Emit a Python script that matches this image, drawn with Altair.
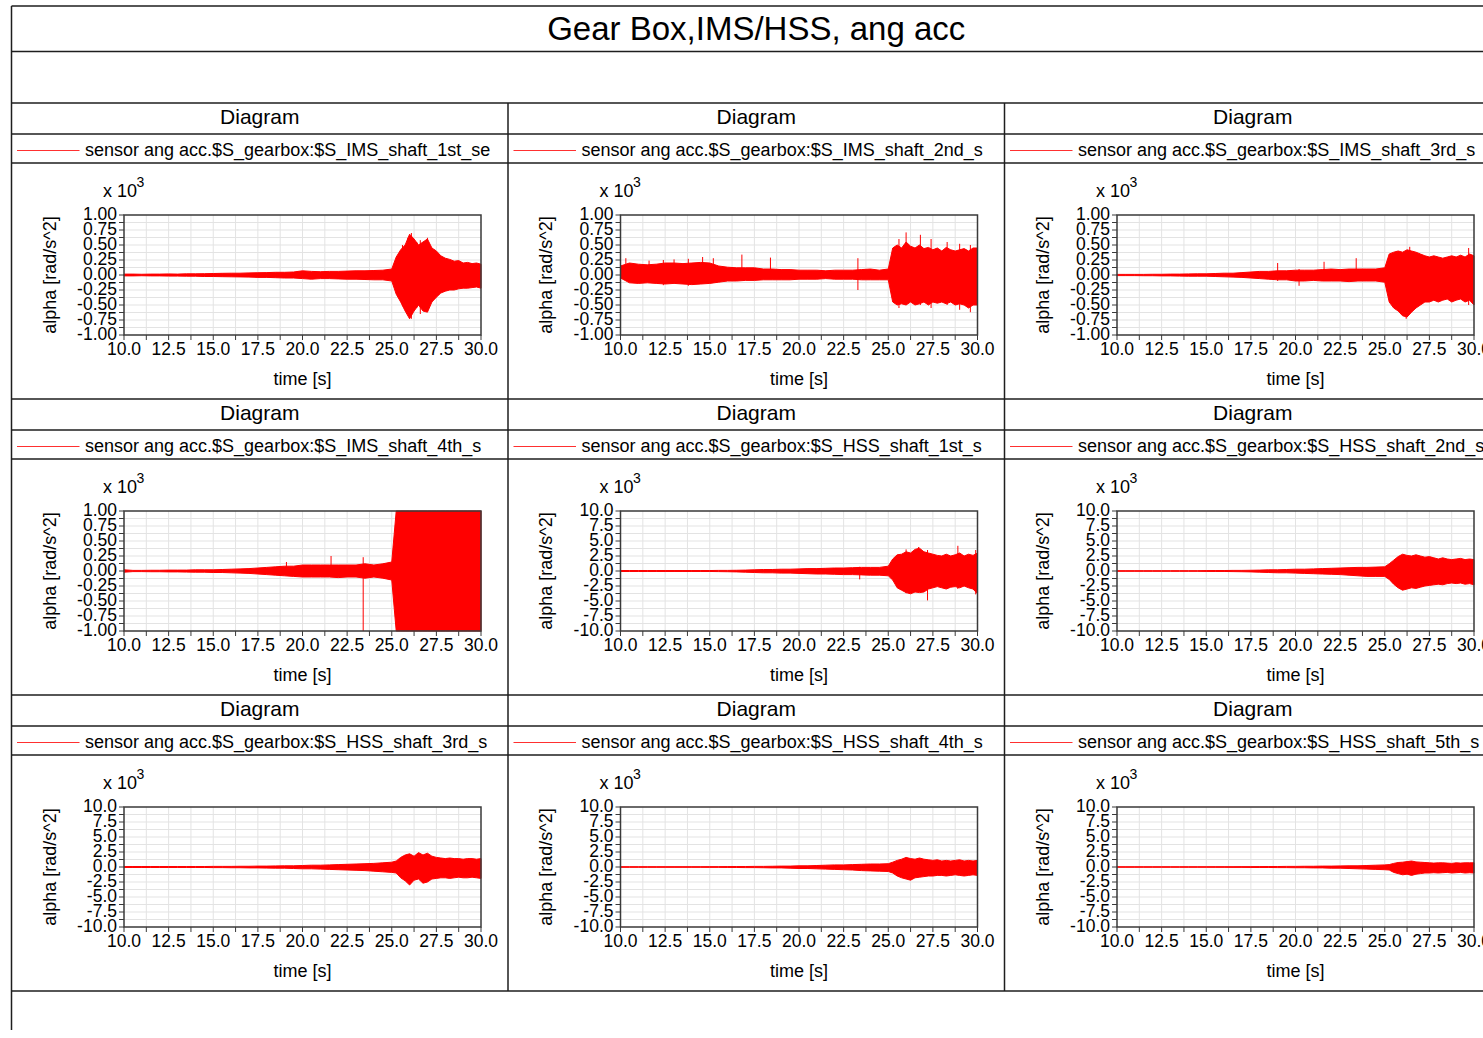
import altair as alt
import pandas as pd

# ---------------- data (values in x 10^3 rad/s^2) ----------------
TIME = [10.0, 10.5, 11.0, 11.5, 12.0, 12.5, 13.0, 13.5, 14.0, 14.5,
        15.0, 15.5, 16.0, 16.5, 17.0, 17.5, 18.0, 18.5, 19.0, 19.5,
        20.0, 20.5, 21.0, 21.5, 22.0, 22.5, 23.0, 23.5, 24.0, 24.5,
        25.0, 25.25, 25.5, 25.75, 26.0, 26.25, 26.5, 26.75, 27.0, 27.25,
        27.5, 27.75, 28.0, 28.25, 28.5, 28.75, 29.0, 29.25, 29.5, 29.75, 30.0]

IMS1_HI = [0.015, 0.015, 0.012, 0.015, 0.015, 0.018, 0.015, 0.02, 0.02, 0.022,
           0.025, 0.028, 0.03, 0.03, 0.035, 0.038, 0.04, 0.045, 0.045, 0.05,
           0.07, 0.06, 0.055, 0.06, 0.06, 0.065, 0.07, 0.07, 0.075, 0.08,
           0.1, 0.3, 0.42, 0.5, 0.68, 0.6, 0.5, 0.55, 0.6, 0.45,
           0.4, 0.32, 0.28, 0.26, 0.23, 0.24, 0.2, 0.21, 0.19, 0.2, 0.18]
IMS1_LO = [-0.015, -0.015, -0.012, -0.015, -0.015, -0.018, -0.018, -0.02, -0.02, -0.025,
           -0.025, -0.028, -0.03, -0.032, -0.035, -0.04, -0.04, -0.045, -0.05, -0.05,
           -0.06, -0.07, -0.06, -0.06, -0.065, -0.07, -0.07, -0.075, -0.08, -0.08,
           -0.1, -0.32, -0.45, -0.6, -0.73, -0.6, -0.5, -0.6, -0.62, -0.45,
           -0.37, -0.3, -0.27, -0.25, -0.25, -0.23, -0.22, -0.22, -0.21, -0.2, -0.22]
IMS1_SPIKE_T = [25.6, 25.9, 26.1, 26.4, 26.6, 27.0, 27.4]
IMS1_SPIKE_TOP = [0.5, 0.62, 0.7, 0.55, 0.58, 0.62, 0.42]
IMS1_SPIKE_BOT = [-0.52, -0.65, -0.73, -0.55, -0.65, -0.6, -0.4]

IMS2_HI = [0.15, 0.2, 0.18, 0.17, 0.18, 0.2, 0.2, 0.19, 0.2, 0.21,
           0.2, 0.15, 0.13, 0.12, 0.12, 0.12, 0.1, 0.1, 0.09, 0.09,
           0.08, 0.08, 0.08, 0.07, 0.08, 0.08, 0.08, 0.09, 0.1, 0.08,
           0.1, 0.45, 0.5, 0.45, 0.55, 0.48, 0.45, 0.5, 0.44, 0.46,
           0.42, 0.45, 0.4, 0.46, 0.42, 0.4, 0.42, 0.44, 0.4, 0.45, 0.45]
IMS2_LO = [-0.05, -0.13, -0.14, -0.13, -0.14, -0.15, -0.14, -0.15, -0.16, -0.15,
           -0.14, -0.12, -0.1, -0.1, -0.09, -0.09, -0.08, -0.08, -0.08, -0.08,
           -0.07, -0.07, -0.07, -0.06, -0.07, -0.07, -0.07, -0.08, -0.08, -0.08,
           -0.08, -0.45, -0.5, -0.48, -0.5, -0.45, -0.5, -0.48, -0.45, -0.5,
           -0.45, -0.47, -0.45, -0.48, -0.45, -0.5, -0.48, -0.5, -0.55, -0.5, -0.5]
IMS2_SPIKE_T = [10.3, 11.6, 12.4, 13.0, 13.8, 14.6, 15.2, 16.8, 18.4, 23.3,
                25.6, 26.0, 26.8, 27.4, 28.3, 29.0, 29.6]
IMS2_SPIKE_TOP = [0.28, 0.24, 0.25, 0.26, 0.27, 0.3, 0.28, 0.34, 0.29, 0.28,
                  0.6, 0.71, 0.67, 0.6, 0.55, 0.52, 0.5]
IMS2_SPIKE_BOT = [-0.05, -0.12, -0.17, -0.1, -0.18, -0.14, -0.1, -0.08, -0.06, -0.25,
                  -0.55, -0.5, -0.5, -0.55, -0.5, -0.58, -0.62]

IMS3_HI = [0.01, 0.01, 0.01, 0.01, 0.012, 0.012, 0.015, 0.015, 0.018, 0.02,
           0.02, 0.025, 0.03, 0.03, 0.04, 0.05, 0.06, 0.06, 0.07, 0.07,
           0.08, 0.08, 0.08, 0.09, 0.1, 0.09, 0.1, 0.1, 0.1, 0.1,
           0.12, 0.35, 0.38, 0.4, 0.38, 0.42, 0.4, 0.38, 0.35, 0.32,
           0.3, 0.32, 0.3, 0.28, 0.3, 0.32, 0.3, 0.33, 0.3, 0.35, 0.32]
IMS3_LO = [-0.01, -0.01, -0.01, -0.012, -0.012, -0.015, -0.015, -0.018, -0.02, -0.02,
           -0.02, -0.025, -0.03, -0.035, -0.04, -0.05, -0.06, -0.07, -0.08, -0.08,
           -0.1, -0.1, -0.09, -0.1, -0.1, -0.1, -0.11, -0.1, -0.1, -0.1,
           -0.12, -0.45, -0.55, -0.6, -0.68, -0.7, -0.62, -0.55, -0.5, -0.45,
           -0.45, -0.42, -0.45, -0.42, -0.4, -0.45, -0.42, -0.4, -0.45, -0.42, -0.5]
IMS3_SPIKE_T = [19.0, 20.2, 21.6, 23.4, 26.2, 26.4, 29.7]
IMS3_SPIKE_TOP = [0.2, 0.1, 0.22, 0.28, 0.4, 0.47, 0.45]
IMS3_SPIKE_BOT = [-0.1, -0.18, -0.1, -0.1, -0.73, -0.6, -0.5]

IMS4_HI = [0.02, 0.01, 0.01, 0.012, 0.012, 0.015, 0.015, 0.015, 0.02, 0.02,
           0.02, 0.025, 0.03, 0.035, 0.04, 0.05, 0.06, 0.07, 0.08, 0.08,
           0.1, 0.1, 0.1, 0.1, 0.1, 0.1, 0.1, 0.12, 0.1, 0.12,
           0.15, 1.0, 1.0, 1.0, 1.0, 1.0, 1.0, 1.0, 1.0, 1.0,
           1.0, 1.0, 1.0, 1.0, 1.0, 1.0, 1.0, 1.0, 1.0, 1.0, 1.0]
IMS4_LO = [-0.02, -0.01, -0.01, -0.012, -0.012, -0.015, -0.015, -0.018, -0.02, -0.02,
           -0.025, -0.025, -0.03, -0.035, -0.04, -0.05, -0.06, -0.07, -0.08, -0.09,
           -0.1, -0.1, -0.1, -0.1, -0.11, -0.1, -0.1, -0.12, -0.1, -0.12,
           -0.15, -1.0, -1.0, -1.0, -1.0, -1.0, -1.0, -1.0, -1.0, -1.0,
           -1.0, -1.0, -1.0, -1.0, -1.0, -1.0, -1.0, -1.0, -1.0, -1.0, -1.0]
IMS4_SPIKE_T = [19.1, 21.6, 23.4, 25.1]
IMS4_SPIKE_TOP = [0.15, 0.25, 0.23, 0.42]
IMS4_SPIKE_BOT = [-0.05, -0.1, -1.0, -0.15]

HSS1_HI = [0.08, 0.08, 0.08, 0.08, 0.08, 0.08, 0.08, 0.08, 0.08, 0.08,
           0.08, 0.1, 0.1, 0.12, 0.15, 0.2, 0.25, 0.25, 0.3, 0.3,
           0.35, 0.4, 0.4, 0.45, 0.5, 0.5, 0.55, 0.6, 0.6, 0.6,
           0.8, 2.0, 2.7, 2.8, 3.2, 3.0, 3.6, 3.8, 3.2, 3.0,
           2.8, 2.6, 2.5, 2.8, 2.5, 2.7, 3.0, 2.5, 2.8, 2.6, 3.0]
HSS1_LO = [-0.08, -0.08, -0.08, -0.08, -0.08, -0.08, -0.08, -0.08, -0.08, -0.08,
           -0.08, -0.1, -0.12, -0.15, -0.2, -0.25, -0.3, -0.3, -0.35, -0.35,
           -0.4, -0.45, -0.5, -0.5, -0.55, -0.6, -0.6, -0.65, -0.7, -0.7,
           -0.8, -1.5, -2.8, -3.2, -3.6, -3.8, -3.5, -3.6, -3.5, -3.0,
           -2.8, -2.6, -2.8, -3.0, -2.7, -2.6, -2.8, -2.5, -2.8, -3.0, -3.8]
HSS1_SPIKE_T = [23.4, 26.0, 26.7, 27.2, 28.9, 29.9]
HSS1_SPIKE_TOP = [0.7, 3.6, 4.0, 3.5, 4.2, 3.5]
HSS1_SPIKE_BOT = [-1.4, -3.7, -3.5, -4.9, -3.0, -3.9]

HSS2_HI = [0.05, 0.05, 0.05, 0.05, 0.05, 0.05, 0.05, 0.05, 0.05, 0.05,
           0.07, 0.08, 0.08, 0.1, 0.1, 0.12, 0.15, 0.2, 0.2, 0.25,
           0.3, 0.3, 0.35, 0.4, 0.45, 0.5, 0.55, 0.6, 0.6, 0.65,
           0.7, 1.2, 1.8, 2.4, 2.8, 2.6, 2.5, 2.7, 2.5, 2.3,
           2.4, 2.2, 2.0, 2.2, 2.0, 1.9, 2.0, 2.1, 1.9, 2.0, 1.9]
HSS2_LO = [-0.05, -0.05, -0.05, -0.05, -0.05, -0.05, -0.05, -0.05, -0.05, -0.05,
           -0.07, -0.08, -0.08, -0.1, -0.12, -0.15, -0.2, -0.25, -0.3, -0.3,
           -0.35, -0.4, -0.45, -0.5, -0.55, -0.6, -0.7, -0.8, -0.9, -0.9,
           -0.9, -1.4, -2.2, -2.8, -3.2, -3.0, -2.8, -2.9, -2.7, -2.5,
           -2.4, -2.3, -2.2, -2.3, -2.1, -2.0, -2.1, -2.0, -2.2, -2.1, -2.3]

HSS3_HI = [0.08, 0.08, 0.08, 0.08, 0.08, 0.08, 0.08, 0.08, 0.08, 0.08,
           0.1, 0.1, 0.1, 0.12, 0.12, 0.15, 0.15, 0.18, 0.2, 0.2,
           0.25, 0.3, 0.3, 0.35, 0.4, 0.45, 0.5, 0.55, 0.6, 0.7,
           0.8, 1.0, 1.6, 2.0, 2.2, 1.8, 2.4, 2.0, 2.3, 1.8,
           1.6, 1.5, 1.4, 1.5, 1.4, 1.4, 1.3, 1.4, 1.4, 1.3, 1.4]
HSS3_LO = [-0.08, -0.08, -0.08, -0.08, -0.08, -0.08, -0.08, -0.08, -0.08, -0.08,
           -0.1, -0.1, -0.12, -0.12, -0.15, -0.15, -0.18, -0.2, -0.2, -0.25,
           -0.3, -0.3, -0.35, -0.4, -0.45, -0.5, -0.55, -0.6, -0.7, -0.8,
           -0.9, -1.0, -1.8, -2.3, -3.0, -2.2, -2.0, -2.7, -2.5, -2.0,
           -1.9, -1.8, -1.8, -1.9, -1.8, -1.7, -1.8, -1.8, -1.7, -1.8, -1.9]

HSS4_HI = [0.05, 0.05, 0.05, 0.05, 0.05, 0.05, 0.05, 0.05, 0.05, 0.05,
           0.06, 0.06, 0.07, 0.08, 0.08, 0.1, 0.1, 0.12, 0.15, 0.15,
           0.2, 0.2, 0.25, 0.3, 0.35, 0.35, 0.4, 0.45, 0.5, 0.5,
           0.55, 0.8, 1.1, 1.3, 1.6, 1.4, 1.3, 1.5, 1.3, 1.2,
           1.1, 1.2, 1.0, 1.1, 1.0, 1.1, 1.2, 1.0, 1.1, 1.0, 1.1]
HSS4_LO = [-0.05, -0.05, -0.05, -0.05, -0.05, -0.05, -0.05, -0.05, -0.05, -0.05,
           -0.06, -0.06, -0.07, -0.08, -0.1, -0.1, -0.12, -0.15, -0.15, -0.2,
           -0.25, -0.25, -0.3, -0.35, -0.4, -0.45, -0.5, -0.6, -0.65, -0.7,
           -0.75, -1.0, -1.5, -1.8, -2.0, -2.2, -1.8, -1.7, -1.6, -1.5,
           -1.5, -1.4, -1.4, -1.5, -1.4, -1.3, -1.4, -1.5, -1.4, -1.3, -1.4]

HSS5_HI = [0.04, 0.04, 0.04, 0.04, 0.04, 0.04, 0.04, 0.04, 0.04, 0.04,
           0.04, 0.05, 0.05, 0.05, 0.06, 0.06, 0.07, 0.08, 0.08, 0.1,
           0.1, 0.12, 0.12, 0.15, 0.15, 0.18, 0.2, 0.2, 0.25, 0.3,
           0.35, 0.4, 0.6, 0.75, 0.8, 0.9, 1.0, 0.85, 0.8, 0.75,
           0.7, 0.65, 0.7, 0.7, 0.65, 0.6, 0.7, 0.65, 0.7, 0.7, 0.7]
HSS5_LO = [-0.04, -0.04, -0.04, -0.04, -0.04, -0.04, -0.04, -0.04, -0.04, -0.04,
           -0.04, -0.05, -0.05, -0.06, -0.06, -0.07, -0.08, -0.08, -0.1, -0.1,
           -0.12, -0.12, -0.15, -0.15, -0.2, -0.2, -0.25, -0.3, -0.35, -0.4,
           -0.45, -0.5, -0.9, -1.1, -1.3, -1.2, -1.4, -1.2, -1.1, -1.0,
           -1.0, -0.95, -1.0, -0.95, -0.9, -1.0, -0.95, -0.9, -1.0, -0.95, -1.0]

LEGENDS = [
    "sensor ang acc.$S_gearbox:$S_IMS_shaft_1st_se",
    "sensor ang acc.$S_gearbox:$S_IMS_shaft_2nd_s",
    "sensor ang acc.$S_gearbox:$S_IMS_shaft_3rd_s",
    "sensor ang acc.$S_gearbox:$S_IMS_shaft_4th_s",
    "sensor ang acc.$S_gearbox:$S_HSS_shaft_1st_s",
    "sensor ang acc.$S_gearbox:$S_HSS_shaft_2nd_s",
    "sensor ang acc.$S_gearbox:$S_HSS_shaft_3rd_s",
    "sensor ang acc.$S_gearbox:$S_HSS_shaft_4th_s",
    "sensor ang acc.$S_gearbox:$S_HSS_shaft_5th_s",
]

TITLE = "Gear Box,IMS/HSS, ang acc"
HEADER = "Diagram"
Y_TITLE = "alpha [rad/s^2]"
X_TITLE = "time [s]"

X_DOMAIN = [10.0, 30.0]
X_TICKS = [10.0, 12.5, 15.0, 17.5, 20.0, 22.5, 25.0, 27.5, 30.0]
X_TICK_LABELS = ["10.0", "12.5", "15.0", "17.5", "20.0", "22.5", "25.0", "27.5", "30.0"]
Y_TICKS_IMS = [1.0, 0.75, 0.5, 0.25, 0.0, -0.25, -0.5, -0.75, -1.0]
Y_LABELS_IMS = ["1.00", "0.75", "0.50", "0.25", "0.00", "-0.25", "-0.50", "-0.75", "-1.00"]
Y_TICKS_HSS = [10.0, 7.5, 5.0, 2.5, 0.0, -2.5, -5.0, -7.5, -10.0]
Y_LABELS_HSS = ["10.0", "7.5", "5.0", "2.5", "0.0", "-2.5", "-5.0", "-7.5", "-10.0"]

# ---------------- layout / style ----------------
FONT = "Liberation Sans"
LINE = "#1e1e1e"
FRAME = "#3a3a3a"
GRID = "#e3e3e3"
RED = "#ff0000"
PAGE_W, PAGE_H = 1483, 1030
X0, COLW, ROW0, ROWH = 11.5, 496.5, 103.0, 296.0
RIGHT = X0 + 3 * COLW


def col_left(c):
    return X0 + c * COLW


def row_top(r):
    return ROW0 + r * ROWH


def pix(ch, field):
    if ch == "x":
        return alt.X(field, type="quantitative", scale=None, axis=None)
    return alt.Y(field, type="quantitative", scale=None, axis=None)


def text_layer(rows, size, align="center", angle=0, baseline="alphabetic"):
    df = pd.DataFrame(rows, columns=["px", "py", "s"])
    return alt.Chart(df).mark_text(
        font=FONT, fontSize=size, align=align, baseline=baseline, angle=angle, color="#000000"
    ).encode(x=pix("x", "px"), y=pix("y", "py"), text="s:N")


# frame lines
hl = [(X0, RIGHT, 6.0), (X0, RIGHT, 51.5), (X0, RIGHT, ROW0)]
for r in range(3):
    t = row_top(r)
    hl += [(X0, RIGHT, t + 31), (X0, RIGHT, t + 60), (X0, RIGHT, t + ROWH)]
vl = [(X0, 6.0, float(PAGE_H))]
for c in (1, 2, 3):
    vl.append((col_left(c), ROW0, ROW0 + 3 * ROWH))

hdf = pd.DataFrame(hl, columns=["a", "b", "py"])
vdf = pd.DataFrame(vl, columns=["px", "a", "b"])
h_rules = alt.Chart(hdf).mark_rule(color=LINE, strokeWidth=1.5).encode(
    x=pix("x", "a"), x2="b:Q", y=pix("y", "py"))
v_rules = alt.Chart(vdf).mark_rule(color=LINE, strokeWidth=1.5).encode(
    x=pix("x", "px"), y=pix("y", "a"), y2="b:Q")

title_rows = [(X0 + 1.5 * COLW, 40.0, TITLE)]
header_rows, legend_rows, x10_rows, sup_rows, ytitle_rows, xtitle_rows, leg_lines = [], [], [], [], [], [], []
for i, name in enumerate(LEGENDS):
    r, c = divmod(i, 3)
    cl, rt = col_left(c), row_top(r)
    header_rows.append((cl + COLW / 2, rt + 20.5, HEADER))
    legend_rows.append((cl + 73.5, rt + 52.5, name))
    leg_lines.append((cl + 5.5, cl + 68.0, rt + 47.5))
    x10_rows.append((cl + 91.5, rt + 94, "x 10"))
    sup_rows.append((cl + 125.0, rt + 84, "3"))
    ytitle_rows.append((cl + 39.0, rt + 172, Y_TITLE))
    xtitle_rows.append((cl + 112.5 + 178.5, rt + 282, X_TITLE))

legend_line_layer = alt.Chart(pd.DataFrame(leg_lines, columns=["a", "b", "py"])).mark_rule(
    color="#ff3030", strokeWidth=1.2).encode(x=pix("x", "a"), x2="b:Q", y=pix("y", "py"))

decor = [
    h_rules, v_rules, legend_line_layer,
    text_layer(title_rows, 33),
    text_layer(header_rows, 21),
    text_layer(legend_rows, 18, align="left"),
    text_layer(x10_rows, 18, align="left"),
    text_layer(sup_rows, 14, align="left"),
    text_layer(ytitle_rows, 18, angle=270, baseline="middle"),
    text_layer(xtitle_rows, 18),
]


def panel(i, hi, lo, ymax, yticks, ylabels, spikes=None):
    r, c = divmod(i, 3)
    cl, rt = col_left(c), row_top(r)
    x0 = cl + 112.5
    x1 = x0 + 357.0
    y0 = rt + 112.0
    y1 = y0 + 120.0
    xs = alt.Scale(domain=X_DOMAIN, range=[x0, x1], nice=False, zero=False)
    ys = alt.Scale(domain=[-ymax, ymax], range=[y1, y0], nice=False, zero=False)

    def X(f):
        return alt.X(f, type="quantitative", scale=xs, axis=None)

    def Y(f):
        return alt.Y(f, type="quantitative", scale=ys, axis=None)

    xminor = [X_DOMAIN[0] + 1.25 * k for k in range(17)]
    ystep = ymax / 8.0
    yminor = [-ymax + ystep * k for k in range(17)]

    gv = alt.Chart(pd.DataFrame({"t": xminor[1:-1], "lo": -ymax, "hi": ymax})).mark_rule(
        color=GRID, strokeWidth=1).encode(x=X("t"), y=Y("lo"), y2="hi:Q")
    gh = alt.Chart(pd.DataFrame({"v": yminor[1:-1], "a": X_DOMAIN[0], "b": X_DOMAIN[1]})).mark_rule(
        color=GRID, strokeWidth=1).encode(y=Y("v"), x=X("a"), x2="b:Q")
    area = alt.Chart(pd.DataFrame({"t": TIME, "hi": hi, "lo": lo})).mark_area(
        color=RED, stroke=RED, strokeWidth=1, interpolate="linear").encode(
        x=X("t"), y=Y("hi"), y2="lo:Q")
    layers = [gv, gh, area]
    if spikes is not None:
        st, stop, sbot = spikes
        layers.append(alt.Chart(pd.DataFrame({"t": st, "top": stop, "bot": sbot})).mark_rule(
            color=RED, strokeWidth=1).encode(x=X("t"), y=Y("top"), y2="bot:Q"))
    frame = alt.Chart(pd.DataFrame({"a": [X_DOMAIN[0]], "b": [X_DOMAIN[1]],
                                    "lo": [-ymax], "hi": [ymax]})).mark_rect(
        fillOpacity=0, stroke=FRAME, strokeWidth=1.5).encode(
        x=X("a"), x2="b:Q", y=Y("lo"), y2="hi:Q")
    xt = alt.Chart(pd.DataFrame({"t": xminor})).mark_rule(color=FRAME, strokeWidth=1).encode(
        x=X("t"), y=alt.value(y1), y2=alt.value(y1 + 5))
    yt = alt.Chart(pd.DataFrame({"v": yminor})).mark_rule(color=FRAME, strokeWidth=1).encode(
        y=Y("v"), x=alt.value(x0 - 5), x2=alt.value(x0))
    xl = alt.Chart(pd.DataFrame({"t": X_TICKS, "s": X_TICK_LABELS})).mark_text(
        font=FONT, fontSize=17.5, align="center", baseline="alphabetic", color="#000000").encode(
        x=X("t"), y=alt.value(y1 + 20), text="s:N")
    yl = alt.Chart(pd.DataFrame({"v": yticks, "s": ylabels})).mark_text(
        font=FONT, fontSize=17.5, align="right", baseline="middle", color="#000000").encode(
        y=Y("v"), x=alt.value(x0 - 7), text="s:N")
    layers += [frame, xt, yt, xl, yl]
    return alt.layer(*layers)


panels = [
    panel(0, IMS1_HI, IMS1_LO, 1.0, Y_TICKS_IMS, Y_LABELS_IMS,
          (IMS1_SPIKE_T, IMS1_SPIKE_TOP, IMS1_SPIKE_BOT)),
    panel(1, IMS2_HI, IMS2_LO, 1.0, Y_TICKS_IMS, Y_LABELS_IMS,
          (IMS2_SPIKE_T, IMS2_SPIKE_TOP, IMS2_SPIKE_BOT)),
    panel(2, IMS3_HI, IMS3_LO, 1.0, Y_TICKS_IMS, Y_LABELS_IMS,
          (IMS3_SPIKE_T, IMS3_SPIKE_TOP, IMS3_SPIKE_BOT)),
    panel(3, IMS4_HI, IMS4_LO, 1.0, Y_TICKS_IMS, Y_LABELS_IMS,
          (IMS4_SPIKE_T, IMS4_SPIKE_TOP, IMS4_SPIKE_BOT)),
    panel(4, HSS1_HI, HSS1_LO, 10.0, Y_TICKS_HSS, Y_LABELS_HSS,
          (HSS1_SPIKE_T, HSS1_SPIKE_TOP, HSS1_SPIKE_BOT)),
    panel(5, HSS2_HI, HSS2_LO, 10.0, Y_TICKS_HSS, Y_LABELS_HSS),
    panel(6, HSS3_HI, HSS3_LO, 10.0, Y_TICKS_HSS, Y_LABELS_HSS),
    panel(7, HSS4_HI, HSS4_LO, 10.0, Y_TICKS_HSS, Y_LABELS_HSS),
    panel(8, HSS5_HI, HSS5_LO, 10.0, Y_TICKS_HSS, Y_LABELS_HSS),
]

chart = alt.layer(*decor, *panels).resolve_scale(
    x="independent", y="independent"
).properties(
    width=PAGE_W, height=PAGE_H, padding=0,
    autosize=alt.AutoSizeParams(type="none"),
    background="white",
).configure_view(strokeWidth=0)

chart.save("out.html", embed_options={"renderer": "svg", "actions": False})
